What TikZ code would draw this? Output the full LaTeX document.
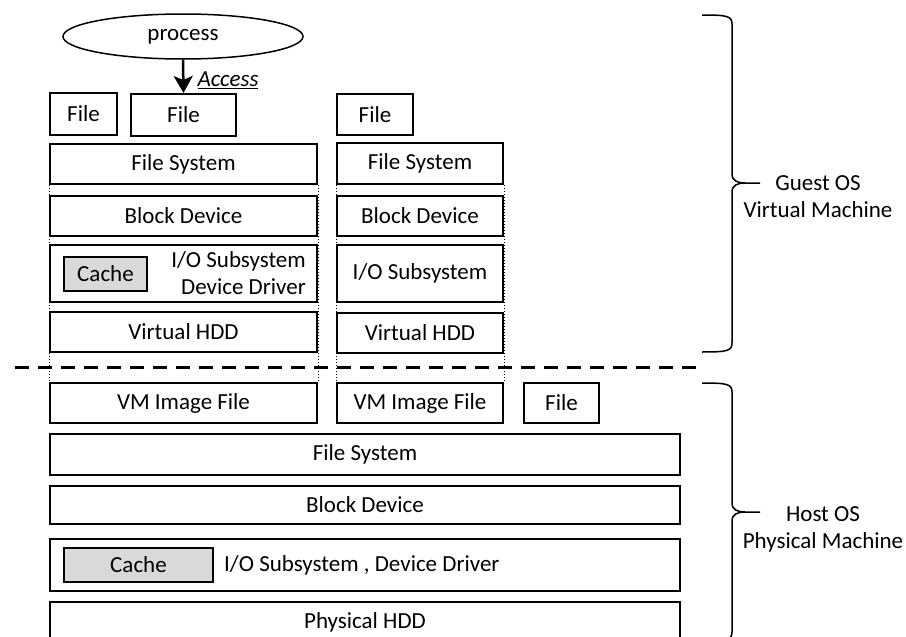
\documentclass[tikz,border=0pt]{standalone}
\usepackage{fontspec}
\setmainfont{Carlito}
\usetikzlibrary{arrows.meta,positioning,shapes.geometric}

\tikzset{
    layer/.style={draw, line width=2pt, fill=white, inner sep=0pt, minimum height=40pt},
    cachebox/.style={draw, line width=2pt, fill=gray!30, inner sep=0pt, minimum height=34pt},
    link/.style={dotted, line width=1pt},
}

\begin{document}
\begin{tikzpicture}[x=1pt, y=-1pt, font=\fontsize{23}{27}\selectfont]
\clip (0,0) rectangle (906,637);

% guest side
\node (proc) [draw, ellipse, line width=1.5pt, minimum width=240pt, minimum height=45pt, inner sep=0pt] at (183,36.5) {process};
\node (gf1) [layer, minimum width=67pt, minimum height=42pt] at (83.5,114) {File};
\node (gf2) [layer, minimum width=105pt, minimum height=42pt] at (183.5,115) {File};
\node (gf3) [layer, minimum width=76pt, minimum height=41pt] at (375,114.5) {File};

\node (gfsA) [layer, minimum width=267pt] at (183.5,164) {File System};
\node (gbdA) [layer, minimum width=267pt] at (183.5,215.5) {Block Device};
\node (gioA) [layer, minimum width=267pt, minimum height=57pt] at (183.5,273.5) {};
\node (gcache) [cachebox, minimum width=83pt] at (105.5,274) {Cache};
\node (giotxt) [align=right, anchor=east, inner sep=0pt] at ([xshift=-12pt]gioA.east) {I/O Subsystem\\Device Driver};
\node (ghddA) [layer, minimum width=267pt] at (183.5,332) {Virtual HDD};

\node (gfsB) [layer, minimum width=166pt, minimum height=41pt] at (420,163.5) {File System};
\node (gbdB) [layer, minimum width=166pt] at (420,216) {Block Device};
\node (gioB) [layer, minimum width=166pt, minimum height=57pt] at (420,273.5) {I/O Subsystem};
\node (ghddB) [layer, minimum width=166pt] at (420,333) {Virtual HDD};

\draw [-{Stealth[length=17pt, width=19pt, inset=4pt]}, line width=2.5pt] (proc.south) -- (gf2.north);
\node (acc) at (228,80) {\underline{\textit{Access}}};

% host side
\node (vmA) [layer, minimum width=267pt] at (183.5,403) {VM Image File};
\node (vmB) [layer, minimum width=166pt] at (420,403) {VM Image File};
\node (hf) [layer, minimum width=75pt] at (561.5,403) {File};
\node (hfs) [layer, minimum width=630pt, minimum height=41pt] at (365,454.5) {File System};
\node (hbd) [layer, minimum width=630pt, minimum height=38pt] at (365,505) {Block Device};
\node (hio) [layer, minimum width=630pt, minimum height=52pt] at (365,565) {};
\node (hcache) [cachebox, minimum width=149pt] at (138.5,565) {Cache};
\node (hiotxt) [anchor=west, inner sep=0pt] at ([xshift=10pt]hcache.east) {I/O Subsystem , Device Driver};
\node (hhdd) [layer, minimum width=630pt] at (365,622) {Physical HDD};

% guest columns down to their image files
\draw [link] (gfsA.south west) -- (vmA.north west);
\draw [link] (gfsA.south east) -- (vmA.north east);
\draw [link] (gfsB.south west) -- (vmB.north west);
\draw [link] (gfsB.south east) -- (vmB.north east);

% boundary
\coordinate (sepL) at (15,367);
\coordinate (sepR) at (703,367);
\draw [dash pattern=on 14pt off 9pt, line width=3pt] (sepL) -- (sepR);

% braces
\foreach \top/\tip/\bot in {15/183/352, 383/512/641}
    \draw [line width=1.5pt] (702,\top) .. controls (727,\top) and (732,\top+1) .. (732,\top+9)
        -- (732,\tip-9) .. controls (732,\tip-2) and (738,\tip) .. (745,\tip) -- (760,\tip)
        (745,\tip) .. controls (738,\tip) and (732,\tip+2) .. (732,\tip+9)
        -- (732,\bot-9) .. controls (732,\bot-1) and (727,\bot) .. (702,\bot);

\node (guest) [align=center] at (818,197) {Guest OS\\Virtual Machine};
\node (host) [align=center] at (823,529) {Host OS\\Physical Machine};
\end{tikzpicture}
\end{document}
